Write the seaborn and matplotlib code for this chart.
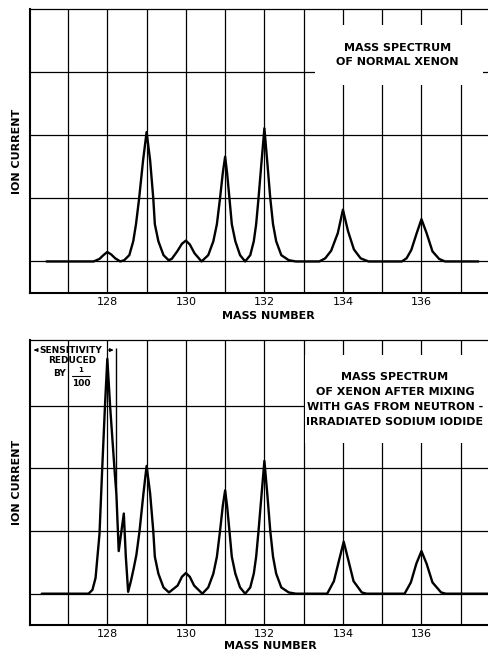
import matplotlib
matplotlib.use("Agg")
import matplotlib.pyplot as plt
import seaborn as sns
from matplotlib.patches import Rectangle

# traced curve of the upper panel (normal xenon)
top_mass = [126.45, 127.65, 127.8, 127.9, 128.0, 128.1, 128.2, 128.33, 128.43,
            128.56, 128.66, 128.73, 128.81, 128.91, 129.0, 129.09, 129.17, 129.21,
            129.3, 129.43, 129.56, 129.64, 129.78, 129.9, 130.0, 130.1, 130.22,
            130.4, 130.57, 130.7, 130.79, 130.87, 130.94, 131.0, 131.05, 131.11,
            131.17, 131.26, 131.38, 131.51, 131.64, 131.73, 131.79, 131.85, 131.93,
            132.0, 132.07, 132.15, 132.22, 132.3, 132.43, 132.62, 132.8, 133.4,
            133.55, 133.7, 133.87, 134.0, 134.13, 134.28, 134.45, 134.65, 135.5,
            135.62, 135.74, 135.88, 136.0, 136.13, 136.28, 136.45, 136.6, 137.45]
top_current = [0.0, 0.0, 0.04, 0.1, 0.15, 0.11, 0.05, 0.0, 0.02,
               0.1, 0.32, 0.59, 1.0, 1.6, 2.05, 1.6, 1.0, 0.59,
               0.32, 0.1, 0.02, 0.04, 0.16, 0.28, 0.33, 0.27, 0.13,
               0.0, 0.1, 0.32, 0.59, 1.0, 1.4, 1.66, 1.4, 1.0,
               0.59, 0.32, 0.1, 0.0, 0.1, 0.32, 0.59, 1.0, 1.6,
               2.11, 1.6, 1.0, 0.59, 0.32, 0.1, 0.02, 0.0, 0.0,
               0.05, 0.17, 0.45, 0.82, 0.48, 0.19, 0.05, 0.0, 0.0,
               0.05, 0.18, 0.45, 0.67, 0.45, 0.16, 0.04, 0.0, 0.0]

# traced curve of the lower panel (after mixing with irradiated NaI gas)
bottom_mass = [126.33, 127.52, 127.62, 127.7, 127.8, 127.87, 127.94, 128.0, 128.07,
               128.19, 128.23, 128.29, 128.42, 128.47, 128.53, 128.6, 128.67,
               128.74, 128.82, 128.92, 129.0, 129.09, 129.17, 129.21, 129.3, 129.43,
               129.57, 129.79, 129.9, 130.0, 130.1, 130.21, 130.42, 130.57, 130.7,
               130.79, 130.87, 130.94, 131.0, 131.05, 131.11, 131.17, 131.26, 131.38,
               131.51, 131.64, 131.73, 131.79, 131.85, 131.93, 132.0, 132.07, 132.15,
               132.22, 132.3, 132.43, 132.62, 132.8, 133.6, 133.77, 133.9, 134.02,
               134.14, 134.27, 134.48, 134.6, 135.57, 135.73, 135.87, 136.0, 136.13,
               136.28, 136.5, 136.62, 137.75]
bottom_current = [0.0, 0.0, 0.06, 0.25, 0.95, 2.0, 3.0, 3.75, 3.0,
                  1.92, 1.6, 0.68, 1.28, 0.6, 0.03, 0.2, 0.4,
                  0.62, 1.0, 1.6, 2.04, 1.6, 1.0, 0.59, 0.32, 0.1,
                  0.02, 0.13, 0.27, 0.33, 0.27, 0.13, 0.0, 0.1, 0.32,
                  0.59, 1.0, 1.4, 1.65, 1.4, 1.0, 0.59, 0.32, 0.1,
                  0.0, 0.1, 0.32, 0.59, 1.0, 1.6, 2.12, 1.62, 1.0,
                  0.59, 0.32, 0.1, 0.02, 0.0, 0.0, 0.2, 0.53, 0.83,
                  0.53, 0.2, 0.02, 0.0, 0.0, 0.18, 0.48, 0.68, 0.48,
                  0.18, 0.02, 0.0, 0.0]

grid_mass = list(range(127, 138))
tick_labels = ["", "128", "", "130", "", "132", "", "134", "", "136", ""]
level_lines = [0, 1, 2, 3]

top_title = "MASS SPECTRUM\nOF NORMAL XENON"
bottom_title = ("MASS SPECTRUM\nOF XENON AFTER MIXING\n"
                "WITH GAS FROM NEUTRON -\nIRRADIATED SODIUM IODIDE")

sns.set_theme(style="white")
plt.rcParams["font.family"] = ["DejaVu Sans"]
plt.rcParams["text.color"] = "black"
plt.rcParams["axes.labelcolor"] = "black"
plt.rcParams["xtick.color"] = "black"
plt.rcParams["ytick.color"] = "black"

fig = plt.figure(figsize=(4.89, 6.52), dpi=100)
ax1 = fig.add_axes([0.0613, 0.5506, 0.9387, 0.4356])
ax2 = fig.add_axes([0.0613, 0.0414, 0.9387, 0.4371])


def style_axis(ax, ylim):
    ax.set_xlim(126.03, 137.72)
    ax.set_ylim(*ylim)
    ax.set_xticks(grid_mass)
    ax.set_xticklabels(tick_labels, fontsize=8)
    ax.set_yticks(level_lines)
    ax.set_yticklabels([])
    ax.tick_params(length=0, pad=3)
    ax.set_axisbelow(True)
    ax.grid(True, color="black", linewidth=0.9)
    ax.spines["right"].set_visible(False)
    ax.spines["top"].set_linewidth(0.9)
    for side in ("left", "bottom"):
        ax.spines[side].set_linewidth(1.5)
    for s in ax.spines.values():
        s.set_color("black")
    ax.set_xlabel("MASS NUMBER", fontsize=8, fontweight="bold")
    ax.set_ylabel("ION CURRENT", fontsize=8, fontweight="bold")
    ax.yaxis.set_label_coords(-0.017, 0.5)


# upper panel
sns.lineplot(x=top_mass, y=top_current, ax=ax1, color="black",
             linewidth=1.7, sort=False, estimator=None)
style_axis(ax1, (-0.5, 4.0))
ax1.xaxis.set_label_coords(0.519, -0.063)
ax1.add_patch(Rectangle((0.621, 0.732), 0.366, 0.212, transform=ax1.transAxes,
                        facecolor="white", edgecolor="none", zorder=1))
ax1.text(0.80, 0.838, top_title, transform=ax1.transAxes, ha="center",
         va="center", fontsize=8, fontweight="bold", linespacing=1.5, zorder=3)

# lower panel
sns.lineplot(x=bottom_mass, y=bottom_current, ax=ax2, color="black",
             linewidth=1.7, sort=False, estimator=None)
style_axis(ax2, (-0.5, 4.05))
ax2.xaxis.set_label_coords(0.524, -0.056)
ax2.add_patch(Rectangle((0.599, 0.639), 0.401, 0.308, transform=ax2.transAxes,
                        facecolor="white", edgecolor="none", zorder=1))
ax2.text(0.795, 0.791, bottom_title, transform=ax2.transAxes, ha="center",
         va="center", fontsize=8, fontweight="bold", linespacing=1.6, zorder=3)

# sensitivity note at the mass 128 peak
ax2.vlines(128.23, 1.65, 3.93, color="black", linewidth=1.0)
ax2.text(127.07, 3.89, "SENSITIVITY", ha="center", va="center", fontsize=6.5,
         fontweight="bold", zorder=3)
ax2.annotate("", xy=(126.06, 3.89), xytext=(126.25, 3.89),
             arrowprops=dict(arrowstyle="-|>", color="black", lw=0.8,
                             mutation_scale=5))
ax2.annotate("", xy=(128.23, 3.89), xytext=(127.95, 3.89),
             arrowprops=dict(arrowstyle="-|>", color="black", lw=0.8,
                             mutation_scale=5))
ax2.text(127.11, 3.72, "REDUCED", ha="center", va="center", fontsize=6.5,
         fontweight="bold", zorder=3)
ax2.text(126.77, 3.52, "BY", ha="center", va="center", fontsize=6.5,
         fontweight="bold", zorder=3)
ax2.text(127.33, 3.565, "1", ha="center", va="center", fontsize=5,
         fontweight="bold", zorder=3)
ax2.plot([127.1, 127.56], [3.47, 3.47], color="black", linewidth=0.8)
ax2.text(127.33, 3.36, "100", ha="center", va="center", fontsize=6.5,
         fontweight="bold", zorder=3)

fig.savefig("out.png", dpi=100)
